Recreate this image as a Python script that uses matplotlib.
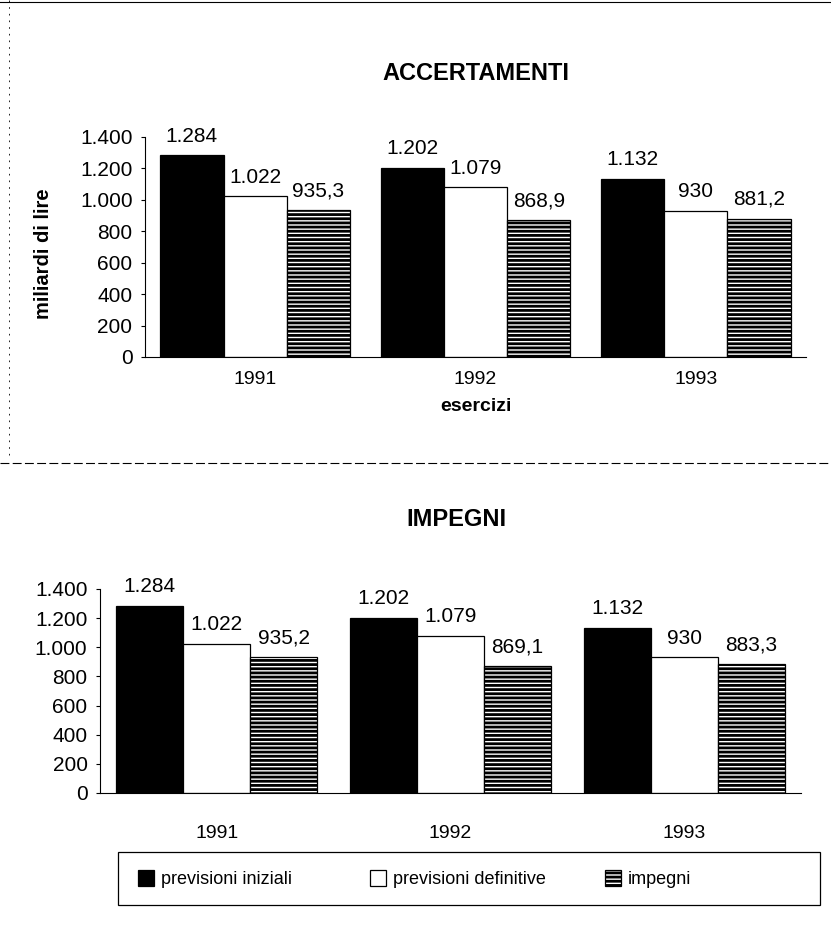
import matplotlib
matplotlib.use("Agg")
import matplotlib.pyplot as plt
from matplotlib.patches import Rectangle
from matplotlib.lines import Line2D
import numpy as np

plt.rcParams['font.family'] = ['Liberation Sans', 'DejaVu Sans']
plt.rcParams['hatch.linewidth'] = 2.0

categories = ['1991', '1992', '1993']
acc_iniziali = [1284, 1202, 1132]
acc_definitive = [1022, 1079, 930]
acc_impegni = [935.3, 868.9, 881.2]
imp_iniziali = [1284, 1202, 1132]
imp_definitive = [1022, 1079, 930]
imp_impegni = [935.2, 869.1, 883.3]
yticks = [0, 200, 400, 600, 800, 1000, 1200, 1400]
series_names = ['previsioni iniziali', 'previsioni definitive', 'impegni']


def fmt_it(v):
    if float(v).is_integer():
        s = f"{int(v):,}".replace(',', '.')
    else:
        s = f"{v:,.1f}".replace(',', 'X').replace('.', ',').replace('X', '.')
    return s


W, H = 831, 941
fig = plt.figure(figsize=(W / 100, H / 100), dpi=100)


def fx(px):
    return px / W


def fy(py):
    return 1 - py / H


styles = [dict(facecolor='black', edgecolor='black', hatch=None),
          dict(facecolor='white', edgecolor='black', hatch=None),
          dict(facecolor='white', edgecolor='black', hatch='----')]


def draw(ax, series, xpad):
    x = np.arange(len(categories))
    w = 0.287
    for i, (vals, st) in enumerate(zip(series, styles)):
        bars = ax.bar(x + (i - 1) * w, vals, width=w, linewidth=0.9, **st)
        for b, v in zip(bars, vals):
            ax.annotate(fmt_it(v), (b.get_x() + b.get_width() / 2, v),
                        xytext=(0, 7), textcoords='offset points',
                        ha='center', va='bottom', fontsize=15)
    ax.set_xlim(-0.5, 2.5)
    ax.set_ylim(0, 1400)
    ax.set_xticks(x)
    ax.set_xticklabels(categories, fontsize=14)
    ax.set_yticks(yticks)
    ax.set_yticklabels([fmt_it(t) for t in yticks], fontsize=15)
    ax.tick_params(axis='x', length=0, pad=xpad)
    ax.tick_params(axis='y', length=3, width=0.8, pad=6)
    for s in ['top', 'right']:
        ax.spines[s].set_visible(False)
    for s in ['left', 'bottom']:
        ax.spines[s].set_linewidth(0.8)


# Top chart: ACCERTAMENTI
ax1 = fig.add_axes([fx(145), fy(357), fx(806) - fx(145), fy(137) - fy(357)])
draw(ax1, [acc_iniziali, acc_definitive, acc_impegni], xpad=10)
ax1.set_ylabel('miliardi di lire', fontsize=14.5, fontweight='bold')
ax1.yaxis.set_label_coords(-0.139, 0.47)
ax1.text(0.5, -0.227, 'esercizi', transform=ax1.transAxes, ha='center',
         va='center', fontsize=14, fontweight='bold')
fig.text(fx(476), fy(73), 'ACCERTAMENTI', ha='center', va='center',
         fontsize=17, fontweight='bold')

# Bottom chart: IMPEGNI
ax2 = fig.add_axes([fx(100), fy(793), fx(801) - fx(100), fy(589) - fy(793)])
draw(ax2, [imp_iniziali, imp_definitive, imp_impegni], xpad=23)
fig.text(fx(456), fy(520), 'IMPEGNI', ha='center', va='center',
         fontsize=17, fontweight='bold')

# Legend box and entries
fig.add_artist(Rectangle((fx(118), fy(905)), fx(820) - fx(118), fy(852) - fy(905),
                         transform=fig.transFigure, facecolor='none',
                         edgecolor='black', linewidth=0.9))
hx = [138, 370, 605]
for i, name in enumerate(series_names):
    fig.add_artist(Rectangle((fx(hx[i]), fy(886)), fx(16), fy(870) - fy(886),
                             transform=fig.transFigure, linewidth=0.9, **styles[i]))
    fig.text(fx(hx[i] + 23), fy(879), name, ha='left', va='center', fontsize=13)

# Page decoration lines from the scan
fig.add_artist(Line2D([0, 1], [fy(2), fy(2)], color='black', lw=0.8))
fig.add_artist(Line2D([0, 1], [fy(463), fy(463)], color='black', lw=0.8,
                      linestyle=(0, (8, 3))))
fig.add_artist(Line2D([fx(9), fx(9)], [fy(0), fy(460)], color='black', lw=0.6,
                      linestyle=(0, (2, 6))))

fig.savefig('out.png', dpi=100)
